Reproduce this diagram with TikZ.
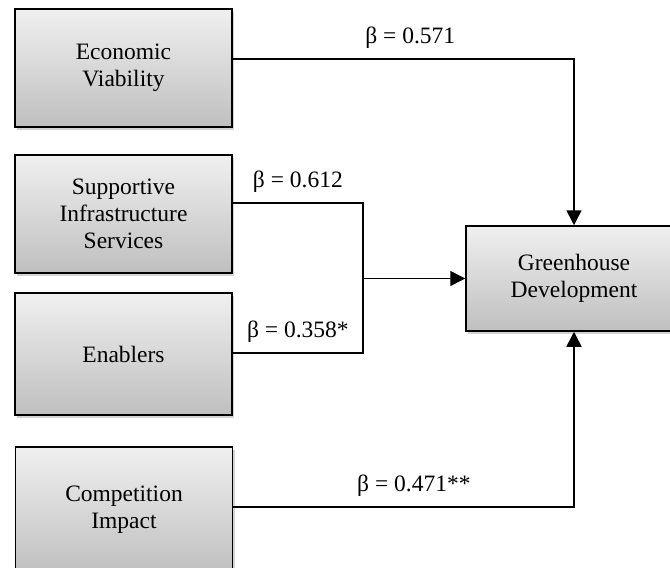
\documentclass[tikz,border=0pt]{standalone}
\usepackage{fontspec}
\setmainfont{Liberation Serif}
\usetikzlibrary{arrows.meta,shadows}

\begin{document}
\begin{tikzpicture}[x=1pt,y=-1pt,
		factor/.style={draw, line width=1.5pt, top color=gray!12, bottom color=gray!50, minimum width=217pt, inner sep=0pt, align=center, font=\fontsize{23.5}{27}\selectfont, drop shadow={shadow xshift=2pt, shadow yshift=-2.5pt, opacity=0.35}},
		link/.style={line width=1.6pt},
		tip/.style={-{Triangle[length=15pt,width=15pt]}},
		beta/.style={above=10pt, inner sep=0pt, font=\fontsize{23.5}{27}\selectfont}]
			\clip (0,0) rectangle (670,568);
			% factors
			\node[factor, minimum height=118pt] (econ) at (123.5,68) {Economic\\Viability};
			\node[factor, minimum height=118pt] (supp) at (123.5,214) {Supportive\\Infrastructure\\Services};
			\node[factor, minimum height=122pt] (enab) at (123.5,354) {Enablers};
			\node[factor, minimum height=126pt] (comp) at (124,510) {Competition\\Impact};
			\node[factor, minimum width=216pt, minimum height=105pt] (gh) at (574,278.5) {Greenhouse\\Development};
			% bends
			\coordinate (k1) at (574,59);
			\coordinate (ja) at (363,203);
			\coordinate (jb) at (363,353);
			\coordinate (k4) at (574,507);
			% paths
			\draw[link, tip] (econ.east |- k1) -- node[beta, pos=0.52] {β = 0.571} (k1) -- (gh.north);
			\draw[link] (supp.east |- ja) -- node[beta] {β = 0.612} (ja) -- (jb) -- node[beta] {β = 0.358*} (enab.east |- jb);
			\draw[link, tip] (ja |- gh.west) -- (gh.west);
			\draw[link, tip] (comp.east |- k4) -- node[beta, pos=0.53] {β = 0.471**} (k4) -- (gh.south);
		\end{tikzpicture}
\end{document}
